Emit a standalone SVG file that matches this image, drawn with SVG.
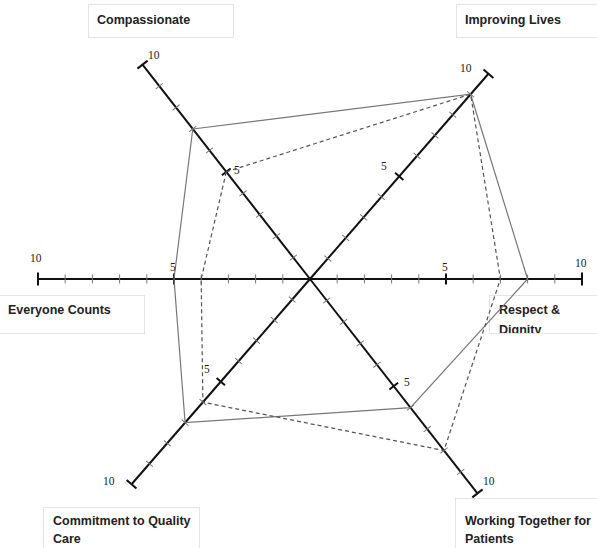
<svg xmlns="http://www.w3.org/2000/svg" xmlns:xlink="http://www.w3.org/1999/xlink" width="597" height="548" viewBox="0 0 597 548">
<style>
.axis{stroke:#111;stroke-width:2;fill:none}
.tick{stroke:#777;stroke-width:1;fill:none}
.major{stroke:#111;stroke-width:2;fill:none}
.num{font-family:"Liberation Serif",serif;font-size:11.5px;fill:#222}
.lbl{font-family:"Liberation Sans",Arial,sans-serif;font-weight:bold;font-size:12.5px;fill:#222}
.box{fill:#fff;stroke:#e4e4e4;stroke-width:1}
.solid{fill:none;stroke:#777;stroke-width:1.2}
.dash{fill:none;stroke:#555;stroke-width:1.2;stroke-dasharray:4 3}
</style>
<defs>
<g id="half">
<line x1="0" y1="0" x2="272" y2="0" class="axis"/>
<path class="tick" d="M27.2,-4.5V4.5M54.4,-4.5V4.5M81.6,-4.5V4.5M108.8,-4.5V4.5M163.2,-4.5V4.5M190.4,-4.5V4.5M217.6,-4.5V4.5M244.8,-4.5V4.5"/>
<path class="major" d="M136,-5.5V5.5M272,-6.5V6.5"/>
</g>
<clipPath id="cR"><rect x="489" y="295" width="108" height="38"/></clipPath>
</defs>
<rect width="597" height="548" fill="#fff"/>
<g id="label-compassionate"><rect class="box" x="88.5" y="4.5" width="145" height="33"/><text class="lbl" x="97" y="24">Compassionate</text></g>
<g id="label-improving"><rect class="box" x="456.5" y="4.5" width="150" height="33"/><text class="lbl" x="465" y="24">Improving Lives</text></g>
<g id="label-everyone"><rect class="box" x="-5" y="295.5" width="149.5" height="38"/><text class="lbl" x="8" y="314">Everyone Counts</text></g>
<g id="label-respect"><rect class="box" x="489.5" y="295.5" width="120" height="38"/><g clip-path="url(#cR)"><text class="lbl" x="499" y="314">Respect &amp;</text><text class="lbl" x="499" y="334">Dignity</text></g></g>
<g id="label-commitment"><rect class="box" x="43.5" y="507.5" width="156" height="50"/><text class="lbl" x="53" y="525">Commitment to Quality</text><text class="lbl" x="53" y="543">Care</text></g>
<g id="label-working"><rect class="box" x="455.5" y="498.5" width="150" height="60"/><text class="lbl" x="465" y="525">Working Together for</text><text class="lbl" x="465" y="543">Patients</text></g>
<g id="axes">
<use xlink:href="#half" transform="translate(310,279)"/>
<use xlink:href="#half" transform="translate(310,279) rotate(180)"/>
<use xlink:href="#half" transform="translate(310,279) rotate(-49)"/>
<use xlink:href="#half" transform="translate(310,279) rotate(-128)"/>
<use xlink:href="#half" transform="translate(310,279) rotate(52)"/>
<use xlink:href="#half" transform="translate(310,279) rotate(131)"/>
</g>
<g id="connectors">
<polygon class="solid" points="192.8,129 470.6,94.2 527.6,279 410.5,407.6 185.1,422.7 174,279"/>
<polygon class="dash" points="226.3,171.8 470.6,94.2 500.4,279 444,450.5 202.9,402.2 201.2,279"/>
</g>
<g id="numbers">
<text class="num" x="30" y="262">10</text>
<text class="num" x="170" y="271">5</text>
<text class="num" x="442" y="271">5</text>
<text class="num" x="575" y="267">10</text>
<text class="num" x="148" y="59">10</text>
<text class="num" x="234" y="174">5</text>
<text class="num" x="460" y="72">10</text>
<text class="num" x="381" y="170">5</text>
<text class="num" x="103" y="485">10</text>
<text class="num" x="204" y="373">5</text>
<text class="num" x="483" y="485">10</text>
<text class="num" x="404" y="386">5</text>
</g>
</svg>
